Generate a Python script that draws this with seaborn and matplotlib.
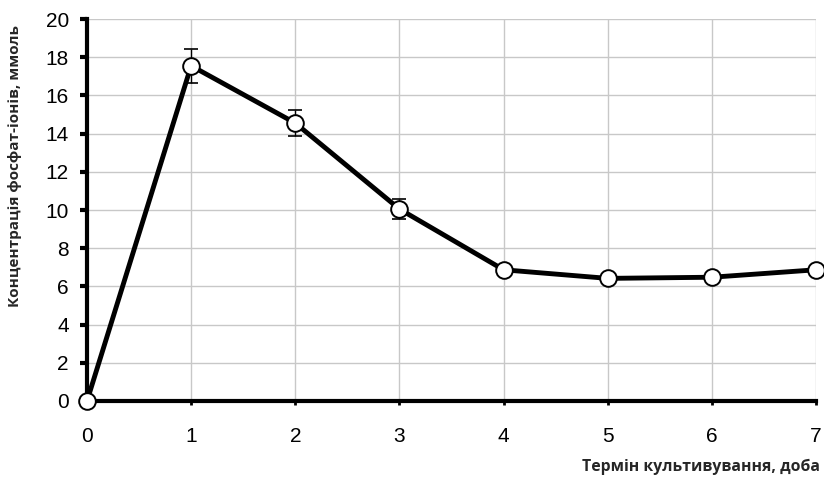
import matplotlib
matplotlib.use("Agg")
import matplotlib.pyplot as plt
import seaborn as sns
import pandas as pd

days = [0, 1, 2, 3, 4, 5, 6, 7]
conc = [0.0, 17.55, 14.55, 10.05, 6.87, 6.42, 6.48, 6.87]
err = [0.0, 0.9, 0.7, 0.5, 0.0, 0.0, 0.0, 0.0]
x_label = "Термін культивування, доба"
y_label = "Концентрація фосфат-іонів, ммоль"

df = pd.DataFrame({"day": days, "conc": conc, "err": err})

sns.set_theme(style="white")
plt.rcParams['font.family'] = ['Liberation Sans', 'DejaVu Sans']

fig = plt.figure(figsize=(8.24, 4.82), dpi=100)
ax = fig.add_axes([87/824, 1-401/482, (816-87)/824, (401-19)/482])

for x in range(1, 8):
    ax.axvline(x, color="#c8c8c8", lw=1, zorder=0)
for y in range(2, 21, 2):
    ax.axhline(y, color="#c8c8c8", lw=1, zorder=0)

ax.errorbar(df["day"], df["conc"], yerr=df["err"], fmt="none", ecolor="black",
            elinewidth=1, capsize=5, capthick=1.2, zorder=3)
sns.lineplot(data=df, x="day", y="conc", ax=ax, color="black", lw=3.5,
             marker="o", markersize=12, markerfacecolor="white",
             markeredgecolor="black", markeredgewidth=1.4, zorder=4, clip_on=False)

ax.set_xlim(0, 7)
ax.set_ylim(0, 20)
ax.set_xticks(days)
ax.set_yticks(range(0, 21, 2))
ax.tick_params(axis="both", labelsize=15, colors="black")
ax.tick_params(axis="y", direction="out", length=5, width=3, left=True, pad=8)
ax.tick_params(axis="x", direction="out", length=3, width=2, bottom=True, pad=16)

for s in ["top", "right"]:
    ax.spines[s].set_visible(False)
ax.spines["left"].set_linewidth(3)
ax.spines["bottom"].set_linewidth(3)
ax.spines["left"].set_color("black")
ax.spines["bottom"].set_color("black")
ax.set_xlabel("")
ax.set_ylabel("")

fig.text(820/824, 1-467/482, x_label, ha="right", va="center", fontsize=11.3,
         fontweight="bold", family=["Open Sans", "DejaVu Sans"])
fig.text(15/824, 1-166/482, y_label, ha="center", va="center", rotation=90,
         fontsize=11, fontweight="bold", family=["Open Sans", "DejaVu Sans"])

fig.savefig("out.png", dpi=100)
